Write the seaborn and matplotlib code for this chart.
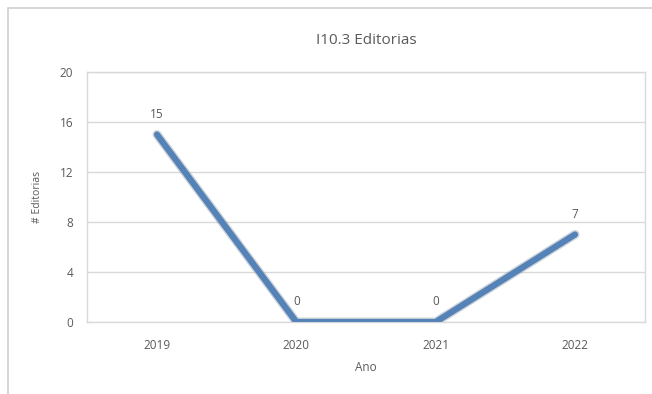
import matplotlib
matplotlib.use("Agg")
import matplotlib.pyplot as plt
import seaborn as sns
import pandas as pd
from matplotlib.patches import Rectangle

anos = ["2019", "2020", "2021", "2022"]
editorias = [15, 0, 0, 7]
yticks = [0, 4, 8, 12, 16, 20]

df = pd.DataFrame({"Ano": anos, "Editorias": editorias})

sns.set_theme(style="white")
plt.rcParams["font.family"] = ["Open Sans", "DejaVu Sans"]

W, H = 652, 394
fig = plt.figure(figsize=(W / 100, H / 100), dpi=100)
fig.patch.set_facecolor("white")

# outer chart frame
fig.patches.append(Rectangle((8 / W, -0.05), 1.2, (H - 8) / H + 0.05, transform=fig.transFigure,
                             fill=False, edgecolor="#d0d0d0", linewidth=1.2, zorder=0))

ax = fig.add_axes([87.3 / W, (H - 322) / H, 557.4 / W, 250 / H])
grey = "#595959"

for y in yticks:
    ax.axhline(y, color="#d9d9d9", linewidth=1.0, zorder=0)

# shadow
sns.lineplot(data=df, x="Ano", y="Editorias", ax=ax, color="#7f8c99", linewidth=6.5,
             alpha=0.35, zorder=2, sort=False)
sns.lineplot(data=df, x="Ano", y="Editorias", ax=ax, color="#5583b8", linewidth=4.5,
             zorder=3, sort=False)

for i, v in enumerate(editorias):
    ax.annotate(str(v), (i, v), textcoords="offset points", xytext=(0, 10),
                ha="center", va="bottom", fontsize=8.5, color=grey)

ax.set_xlim(-0.5, len(anos) - 0.5)
ax.set_ylim(0, 20)
ax.set_yticks(yticks)
ax.set_yticklabels([str(t) for t in yticks], fontsize=8.5, color=grey)
ax.set_xticks(range(len(anos)))
ax.set_xticklabels(anos, fontsize=8.5, color=grey)
ax.tick_params(axis="y", length=0, pad=10)
ax.tick_params(axis="x", length=0, pad=12)
ax.set_xlabel("Ano", fontsize=8.5, color=grey, labelpad=7)
ax.set_ylabel("# Editorias", fontsize=7.5, color=grey, labelpad=12)
ax.set_title("I10.3 Editorias", fontsize=11, color=grey, pad=20)
for s in ax.spines.values():
    s.set_color("#d9d9d9")
    s.set_linewidth(1.0)

fig.savefig("out.png", dpi=100)
